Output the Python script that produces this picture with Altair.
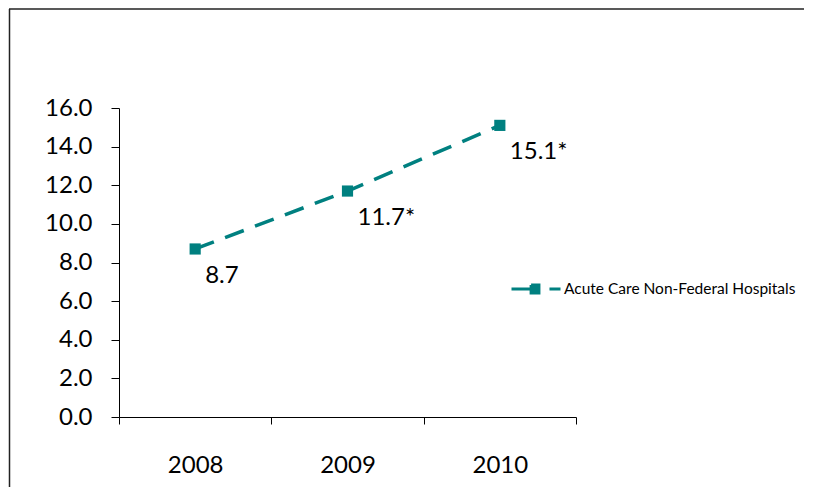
import altair as alt
import pandas as pd

years = ["2008", "2009", "2010"]
values = [8.7, 11.7, 15.1]
labels = ["8.7", "11.7*", "15.1*"]
series_name = "Acute Care Non-Federal Hospitals"
y_ticks = [0, 2, 4, 6, 8, 10, 12, 14, 16]

df = pd.DataFrame({
    "year": years,
    "value": values,
    "label": labels,
    "series": [series_name] * len(years),
})

TEAL = "#008080"
FONT = "Lato"

x_enc = alt.X(
    "year:O",
    bandPosition=0.5,
    scale=alt.Scale(type="band", paddingInner=0, paddingOuter=0),
    axis=alt.Axis(
        title=None, labelAngle=0, tickBand="extent", tickSize=7,
        labelPadding=41, labelBaseline="middle", labelFontSize=24, labelFont=FONT,
    ),
)
y_enc = alt.Y(
    "value:Q",
    scale=alt.Scale(domain=[0, 16], nice=False, zero=True),
    axis=alt.Axis(
        title=None, values=y_ticks, format=".1f", tickSize=8, labelPadding=19,
        labelFontSize=24, labelFont=FONT, grid=False,
    ),
)

legend_symbol = "M-1,0H-0.2M-0.2,-0.16H0.12V0.16H-0.2ZM0.55,0H1"

line = alt.Chart(df).mark_line(strokeWidth=3.5, strokeDash=[20, 12]).encode(
    x=x_enc,
    y=y_enc,
    color=alt.Color(
        "series:N",
        scale=alt.Scale(range=[TEAL]),
        legend=alt.Legend(
            title=None, orient="none", legendX=391, legendY=155,
            symbolType=legend_symbol, symbolSize=2401, symbolStrokeWidth=3,
            symbolFillColor=TEAL, symbolStrokeColor=TEAL, symbolDash=[1000, 0],
            labelFontSize=15.5, labelFont=FONT, labelOffset=2, padding=0,
            labelColor="black", labelLimit=400,
        ),
    ),
)

points = alt.Chart(df).mark_point(
    shape="square", filled=True, size=125, color=TEAL, opacity=1
).encode(x=x_enc, y=y_enc)

text = alt.Chart(df).mark_text(
    align="left", baseline="middle", dx=10, dy=27, fontSize=24, font=FONT, color="black"
).encode(x=x_enc, y=y_enc, text="label:N")

frame_data = alt.Data(values=[{"k": 1}])
frame_left = alt.Chart(frame_data).mark_rule(color="#222222", strokeWidth=1.5).encode(
    x=alt.value(-109.5), y=alt.value(-99), y2=alt.value(420)
)
frame_top = alt.Chart(frame_data).mark_rule(color="#222222", strokeWidth=1.5).encode(
    x=alt.value(-110), x2=alt.value(720), y=alt.value(-99)
)

chart = alt.layer(frame_left, frame_top, line, points, text).properties(
    width=457,
    height=309,
    autosize="none",
    padding={"left": 111, "top": 100, "right": 228, "bottom": 70},
).configure_view(stroke=None).configure_axis(
    domainColor="black", tickColor="black", labelColor="black", domainWidth=1, tickWidth=1
)

chart.save("out.html", embed_options={"renderer": "svg", "actions": False})
